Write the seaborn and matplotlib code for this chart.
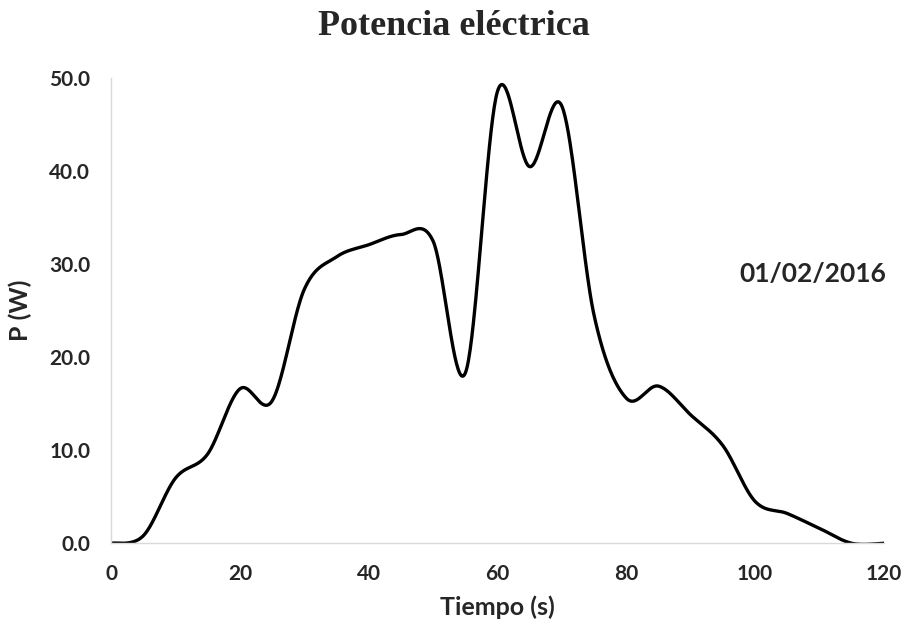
import numpy as np
import pandas as pd
import seaborn as sns
import matplotlib.pyplot as plt

# lecturas cada 5 s
tiempo = [0, 5, 10, 15, 20, 25, 30, 35, 40, 45, 50, 55, 60,
          65, 70, 75, 80, 85, 90, 95, 100, 105, 110, 115, 120]
potencia = [0.0, 0.8, 7.0, 9.6, 16.6, 15.3, 27.3, 30.8, 32.1, 33.2, 32.5, 18.3, 48.6,
            40.5, 47.0, 24.5, 15.6, 16.9, 13.8, 10.5, 4.5, 3.2, 1.6, 0.0, 0.0]
x_ticks = [0, 20, 40, 60, 80, 100, 120]
y_ticks = [0, 10, 20, 30, 40, 50]
fecha = "01/02/2016"


def suavizar(x, y, pasos=40):
    # linea suavizada tipo Excel: tramos Bezier con puntos de control Catmull-Rom
    p = np.column_stack([x, y]).astype(float)
    ext = np.vstack([p[0], p, p[-1]])
    t = np.linspace(0, 1, pasos, endpoint=False)[:, None]
    out = []
    for i in range(len(p) - 1):
        p0, p3 = p[i], p[i + 1]
        c1 = p0 + (ext[i + 2] - ext[i]) / 6
        c2 = p3 - (ext[i + 3] - ext[i + 1]) / 6
        out.append((1 - t) ** 3 * p0 + 3 * (1 - t) ** 2 * t * c1 + 3 * (1 - t) * t ** 2 * c2 + t ** 3 * p3)
    out.append(p[-1:])
    return np.vstack(out)


sns.set_theme(style="white")
plt.rcParams['font.family'] = ['Lato', 'DejaVu Sans']

curva = suavizar(tiempo, potencia)
df = pd.DataFrame({'Tiempo (s)': curva[:, 0], 'P (W)': curva[:, 1]})

fig = plt.figure(figsize=(9.07, 6.28), dpi=100)
ax = fig.add_axes([0.1224, 0.1349, 0.8522, 0.7404])
sns.lineplot(data=df, x='Tiempo (s)', y='P (W)', color='black', linewidth=2.4, ax=ax, sort=False)

ax.set_xlim(0, 120)
ax.set_ylim(0, 50)
ax.set_xticks(x_ticks)
ax.set_xticklabels([str(v) for v in x_ticks], fontweight='bold', fontsize=15)
ax.set_yticks(y_ticks)
ax.set_yticklabels([f"{v:.1f}" for v in y_ticks], fontweight='bold', fontsize=15)
ax.tick_params(axis='both', length=0)
ax.tick_params(axis='y', pad=15)
ax.tick_params(axis='x', pad=15)

for side in ['top', 'right']:
    ax.spines[side].set_visible(False)
for side in ['left', 'bottom']:
    ax.spines[side].set_color('#d9d9d9')
    ax.spines[side].set_linewidth(1.0)

ax.set_xlabel('Tiempo (s)', fontweight='bold', fontsize=18, labelpad=8)
ax.set_ylabel('P (W)', fontweight='bold', fontsize=18, labelpad=12)

fig.text(0.5, 0.944, 'Potencia eléctrica', ha='center', va='baseline',
         fontsize=26, fontweight='bold', family='Liberation Serif')
ax.text(109, 29, fecha, ha='center', va='center', fontsize=19, fontweight='bold')

fig.savefig('out.png', dpi=100)
